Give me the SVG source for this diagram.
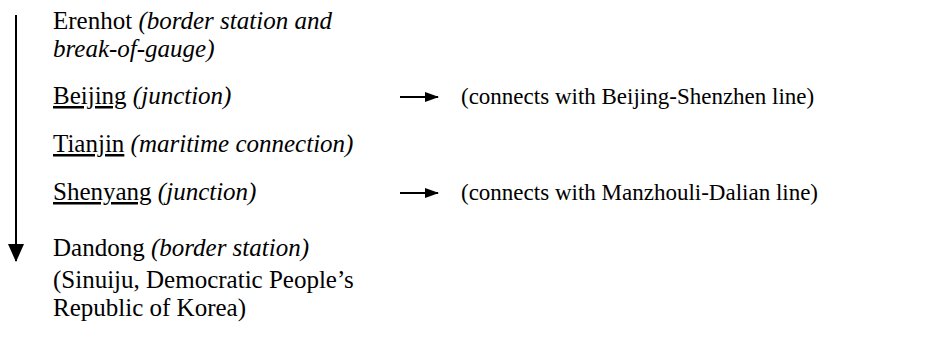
<svg xmlns="http://www.w3.org/2000/svg" width="934" height="343" viewBox="0 0 934 343">
<style>
text{font-family:"Liberation Serif","Times New Roman",serif;font-size:25px;fill:#000}
.r{font-size:23px}
.i{font-style:italic}
.u{text-decoration:underline}
.ln{stroke:#000;stroke-width:2;fill:none}
</style>
<defs>
<marker id="ah" markerWidth="14" markerHeight="10" refX="13" refY="5" orient="auto" markerUnits="userSpaceOnUse"><path d="M0,0 L14,5 L0,10 Z" fill="#000"/></marker>
<marker id="av" markerWidth="18" markerHeight="16" refX="17" refY="8" orient="auto" markerUnits="userSpaceOnUse"><path d="M0,0 L18,8 L0,16 Z" fill="#000"/></marker>
</defs>
<g id="connectors">
<line class="ln" x1="16" y1="15" x2="16" y2="261" marker-end="url(#av)"/>
<line class="ln" x1="400" y1="97" x2="438" y2="97" marker-end="url(#ah)"/>
<line class="ln" x1="400" y1="193" x2="438" y2="193" marker-end="url(#ah)"/>
</g>
<g id="erenhot"><text x="53" y="29">Erenhot <tspan class="i">(border station and</tspan></text><text class="i" x="53" y="57">break-of-gauge)</text></g>
<g id="beijing"><text x="53" y="104"><tspan class="u">Beijing</tspan> <tspan class="i">(junction)</tspan></text></g>
<g id="shenzhen"><text class="r" x="461" y="104">(connects with Beijing-Shenzhen line)</text></g>
<g id="tianjin"><text x="53" y="152"><tspan class="u">Tianjin</tspan> <tspan class="i">(maritime connection)</tspan></text></g>
<g id="shenyang"><text x="53" y="200"><tspan class="u">Shenyang</tspan> <tspan class="i">(junction)</tspan></text></g>
<g id="dalian"><text class="r" x="461" y="200">(connects with Manzhouli-Dalian line)</text></g>
<g id="dandong"><text x="53" y="256">Dandong <tspan class="i">(border station)</tspan></text></g>
<g id="sinuiju"><text x="53" y="288">(Sinuiju, Democratic People’s</text><text x="53" y="316">Republic of Korea)</text></g>
</svg>
